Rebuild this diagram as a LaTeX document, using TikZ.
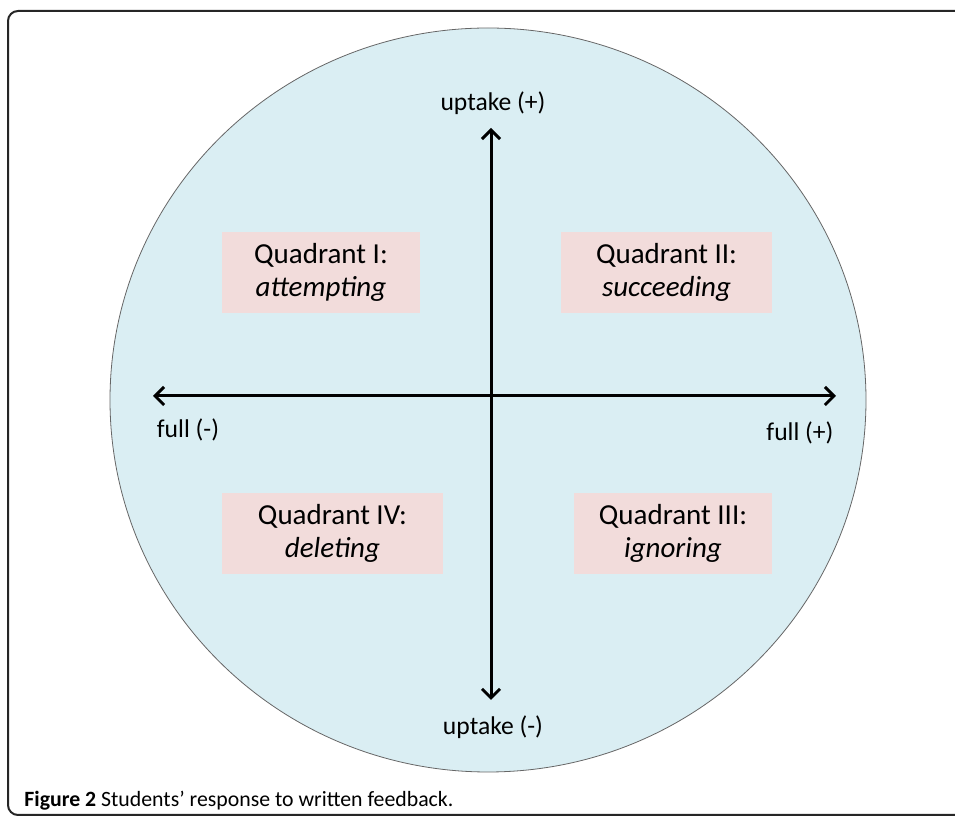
\documentclass[tikz,border=0pt]{standalone}
\usepackage{fontspec}
\setmainfont{Carlito}
\usetikzlibrary{arrows.meta}
\definecolor{circleblue}{HTML}{DAEEF3}
\definecolor{boxpink}{HTML}{F2DCDB}
\tikzset{
	quad/.style={fill=boxpink, inner sep=0pt, minimum height=40.5pt, align=center, font=\fontsize{14.5}{16.5}\selectfont},
	axis/.style={line width=1.5pt, {Straight Barb[length=4.5pt,width=9pt]}-{Straight Barb[length=4.5pt,width=9pt]}},
	axislabel/.style={inner sep=0pt, font=\fontsize{12.8}{14}\selectfont}
}
\begin{document}
\begin{tikzpicture}[x=0.5pt,y=-0.5pt]
			\useasboundingbox (0,0) rectangle (955,817);
			
			%Frame
			\draw[line width=1pt, black!85, rounded corners=5pt] (8,11) rectangle (1000,815);
			
			%Circle
			\draw[fill=circleblue, draw=black!60, line width=0.4pt] (488,400) ellipse [x radius=189pt, y radius=186pt];
			
			%Axes
			\coordinate (up) at (491,128);
			\coordinate (down) at (491,700);
			\coordinate (left) at (153,396);
			\coordinate (right) at (836,396);
			\draw[axis] (up) -- (down);
			\draw[axis] (left) -- (right);
			
			%Axis labels
			\node[axislabel] (uptakeplus) at (493,103) {uptake (+)};
			\node[axislabel] (uptakeminus) at (493,727) {uptake (-)};
			\node[axislabel] (fullminus) at (188,430) {full (-)};
			\node[axislabel] (fullplus) at (800,433) {full (+)};
			
			%Quadrant boxes
			\node[quad, minimum width=99pt] (qone) at (321,272.5) {Quadrant I:\\\textit{attempting}};
			\node[quad, minimum width=105.5pt] (qtwo) at (666.5,272.5) {Quadrant II:\\\textit{succeeding}};
			\node[quad, minimum width=99pt] (qthree) at (673,533.5) {Quadrant III:\\\textit{ignoring}};
			\node[quad, minimum width=110.5pt] (qfour) at (332.5,533.5) {Quadrant IV:\\\textit{deleting}};
			
			%Caption
			\node[anchor=west, inner sep=0pt, font=\fontsize{10.9}{13}\selectfont] (caption) at (24,801) {\textbf{Figure 2} Students' response to written feedback.};
		\end{tikzpicture}
\end{document}
